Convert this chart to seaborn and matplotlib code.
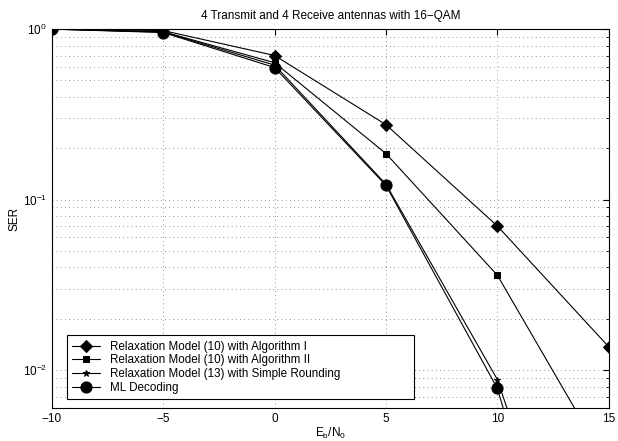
import numpy as np
import pandas as pd
import matplotlib
matplotlib.use('Agg')
import matplotlib.pyplot as plt
from matplotlib.ticker import LogLocator, NullFormatter
import seaborn as sns

# values
snr = [-10, -5, 0, 5, 10, 15]
ser_alg1 = [1.0, 0.98, 0.70, 0.275, 0.070, 0.0137]
ser_alg2 = [1.0, 0.965, 0.635, 0.186, 0.036, 0.0027]
ser_round = [1.0, 0.96, 0.615, 0.123, 0.0088, 0.0001]
ser_ml = [1.0, 0.955, 0.595, 0.121, 0.0078, 0.00005]

labels = ['Relaxation Model (10) with Algorithm I',
          'Relaxation Model (10) with Algorithm II',
          'Relaxation Model (13) with Simple Rounding',
          'ML Decoding']
markers = ['D', 's', '*', 'o']
msizes = [6.5, 4.5, 5, 8]

df = pd.DataFrame({
    'snr': snr * 4,
    'ser': ser_alg1 + ser_alg2 + ser_round + ser_ml,
    'method': [l for l in labels for _ in snr],
})

sns.set_style('white')
plt.rcParams['font.family'] = ['Liberation Sans', 'DejaVu Sans']
plt.rcParams['mathtext.fontset'] = 'custom'
plt.rcParams['mathtext.rm'] = 'Liberation Sans'
plt.rcParams['text.color'] = 'black'
plt.rcParams['axes.labelcolor'] = 'black'
plt.rcParams['xtick.color'] = 'black'
plt.rcParams['ytick.color'] = 'black'

fig = plt.figure(figsize=(6.18, 4.41), dpi=100)
ax = fig.add_axes([0.084, 0.075, 0.901, 0.859])

for lab, m, ms in zip(labels, markers, msizes):
    sub = df[df['method'] == lab]
    sns.lineplot(data=sub, x='snr', y='ser', ax=ax, color='black', lw=0.8,
                 marker=m, markersize=ms, markeredgecolor='black',
                 markerfacecolor='black', label=lab)

ax.set_yscale('log')
ax.set_xlim(-10, 15)
ax.set_ylim(0.006, 1)
ax.set_xticks([-10, -5, 0, 5, 10, 15])
ax.yaxis.set_major_locator(LogLocator(base=10, numticks=10))
ax.yaxis.set_minor_locator(LogLocator(base=10, subs=np.arange(2, 10), numticks=10))
ax.yaxis.set_minor_formatter(NullFormatter())

ax.grid(True, which='major', axis='both', color='black', ls=(0, (1, 4)), lw=0.6, alpha=0.55)
ax.grid(True, which='minor', axis='y', color='black', ls=(0, (1, 4)), lw=0.6, alpha=0.55)

ax.tick_params(which='both', direction='in', top=True, right=True, labelsize=8.5)
ax.tick_params(which='major', length=4)
ax.tick_params(which='minor', length=2)
for s in ax.spines.values():
    s.set_color('black')
    s.set_linewidth(0.8)

ax.set_title('4 Transmit and 4 Receive antennas with 16\u2212QAM', fontsize=8.5, pad=7)
ax.set_xlabel(r'E$_\mathrm{b}$/N$_0$', fontsize=8.5, labelpad=1)
ax.set_ylabel('SER', fontsize=8.5, labelpad=2)

leg = ax.legend(loc='lower left', bbox_to_anchor=(0.027, 0.024, 0.623, 0.1),
                mode='expand', fontsize=8.4,
                frameon=True, fancybox=False, framealpha=1, edgecolor='black',
                borderpad=0.45, labelspacing=0.14, handlelength=2.4,
                handletextpad=0.85, borderaxespad=0)
leg.get_frame().set_linewidth(0.8)

fig.savefig('out.png', dpi=100)
